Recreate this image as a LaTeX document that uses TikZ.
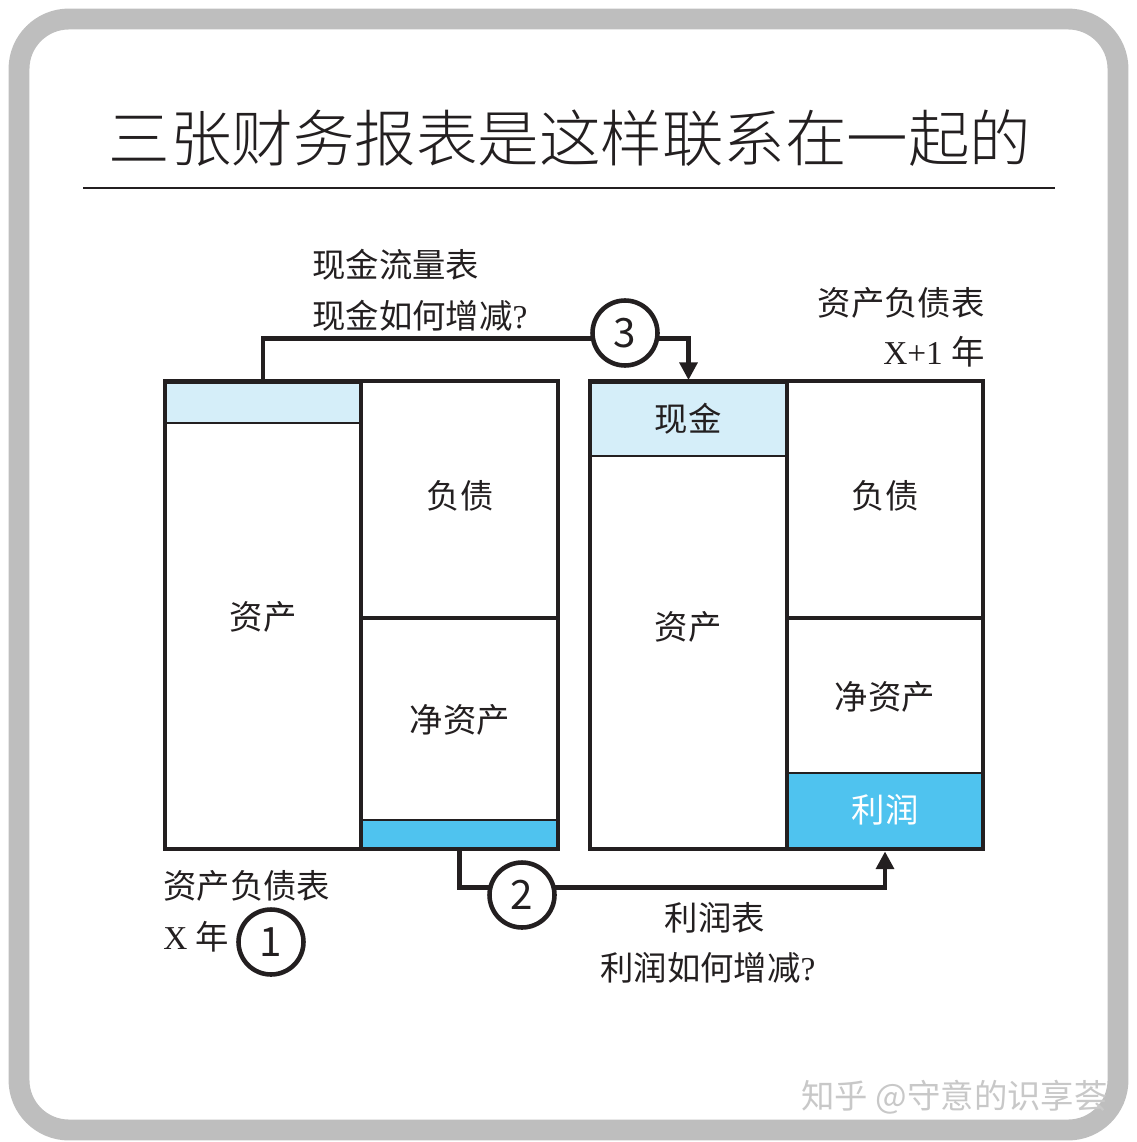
\documentclass[tikz,border=0pt]{standalone}
\usepackage{fontspec}
\setmainfont{Liberation Serif}
\newfontfamily\cjk{Noto Sans CJK SC}
\newfontfamily\cjklight{Noto Sans CJK SC Light}
\usetikzlibrary{arrows.meta}
\definecolor{ink}{HTML}{231F20}
\definecolor{cashblue}{HTML}{D5EEF9}
\definecolor{profitblue}{HTML}{4FC3EF}
\definecolor{framegray}{HTML}{BEBEBE}
\definecolor{wmgray}{HTML}{C8C8C8}
\tikzset{
  cell/.style={draw=ink, line width=2.8pt, inner sep=0pt, rectangle},
  strip/.style={draw=ink, line width=1.1pt, inner sep=0pt, rectangle},
  conn/.style={draw=ink, line width=2.4pt, -{Triangle[length=10pt,width=10pt]}},
  numc/.style={circle, draw=ink, fill=white, line width=2.6pt, minimum size=1.3cm, inner sep=0pt,
    font=\cjk\fontsize{23pt}{26pt}\selectfont, text=ink},
  lbl/.style={font=\cjk\fontsize{19pt}{22pt}\selectfont, text=ink, inner sep=0pt},
  sub/.style={font=\fontsize{19pt}{22pt}\selectfont, text=ink, inner sep=0pt},
}
\begin{document}
\begin{tikzpicture}[x=0.02cm,y=-0.02cm]
\useasboundingbox (0,0) rectangle (1136,1142);
% frame
\draw[framegray, line width=11.9pt, rounded corners=1cm] (19,19) rectangle (1118,1130);
% title
\node[font=\cjklight\fontsize{35pt}{40pt}\selectfont, text=ink, inner sep=0pt] (title) at (570,138) {三张财务报表是这样联系在一起的};
\coordinate (ruleL) at (83,188);
\coordinate (ruleR) at (1055,188);
\draw[ink, line width=1.1pt] (ruleL) -- (ruleR);

% strips (drawn first)
\node[strip, fill=cashblue, minimum width=3.92cm, minimum height=0.84cm] (Lcash) at (263,402) {};
\node[strip, fill=profitblue, minimum width=3.94cm, minimum height=0.58cm] (Lprofit) at (459.5,834.5) {};
\node[strip, fill=cashblue, minimum width=3.94cm, minimum height=1.50cm] (Rcash) at (688.5,418.5) {};
\node[strip, fill=profitblue, minimum width=3.92cm, minimum height=1.52cm] (Rprofit) at (885,811) {};

% cells
\node[cell, minimum width=3.92cm, minimum height=9.36cm] (Lasset) at (263,615) {};
\node[cell, minimum width=3.94cm, minimum height=4.74cm] (Lliab) at (459.5,499.5) {};
\node[cell, minimum width=3.94cm, minimum height=4.62cm] (Lequity) at (459.5,733.5) {};
\node[cell, minimum width=3.94cm, minimum height=9.36cm] (Rasset) at (688.5,615) {};
\node[cell, minimum width=3.92cm, minimum height=4.74cm] (Rliab) at (885,499.5) {};
\node[cell, minimum width=3.92cm, minimum height=4.62cm] (Requity) at (885,733.5) {};

% cell labels
\node[lbl] (tLliab) at (460,496) {负债};
\node[lbl] (tLasset) at (263,617) {资产};
\node[lbl] (tLequity) at (460,720) {净资产};
\node[lbl] (tRcash) at (688,419) {现金};
\node[lbl] (tRliab) at (885,496) {负债};
\node[lbl] (tRasset) at (688,627) {资产};
\node[lbl] (tRequity) at (885,697) {净资产};
\node[lbl, text=white] (tRprofit) at (885,810) {利润};

% connectors
\draw[conn] (Lasset.north) -- ++(0,-40) -| (Rcash.north);
\draw[conn] (Lequity.south) -- ++(0,36) -| (Requity.south);

% number circles
\node[numc] (n3) at (625,333) {3};
\node[numc] (n2) at (522,895) {2};
\node[numc] (n1) at (271,942) {1};

% captions
\node[lbl, anchor=west] (cfT) at (312,265) {现金流量表};
\node[sub, anchor=west] (cfQ) at (312,316) {{\cjk 现金如何增减}?};
\node[lbl, anchor=east] (bsRT) at (985,303) {资产负债表};
\node[sub, anchor=east] (bsRY) at (985,352) {X+1 {\cjk 年}};
\node[lbl, anchor=west] (bsLT) at (163,886) {资产负债表};
\node[sub, anchor=west] (bsLY) at (163,937) {X {\cjk 年}};
\node[lbl] (isT) at (715,918) {利润表};
\node[sub] (isQ) at (708,968) {{\cjk 利润如何增减}?};

% watermark
\node[font=\cjk\fontsize{19pt}{22pt}\selectfont, text=wmgray, inner sep=0pt, anchor=east] (wm) at (1108,1097) {知乎 @守意的识享荟};
\end{tikzpicture}
\end{document}
